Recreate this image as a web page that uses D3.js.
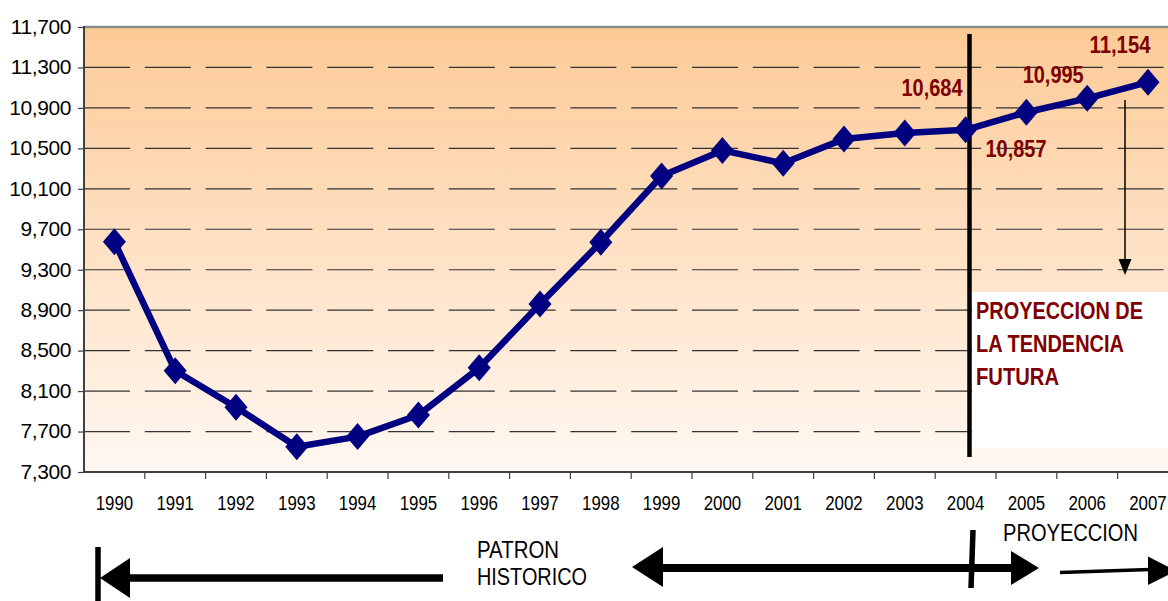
<!DOCTYPE html>
<html lang="es">
<head>
    <meta charset="utf-8">
    <title>Proyeccion de la tendencia futura</title>
    <style>
        body { margin: 0; background: #fff; }
        svg { display: block; font-family: "Liberation Sans", Arial, sans-serif; }
    </style>
</head>
<body>
<script src="https://cdn.jsdelivr.net/npm/d3@7/dist/d3.min.js"></script>
<script>
    // datos
    var years = ["1990", "1991", "1992", "1993", "1994", "1995", "1996", "1997", "1998",
        "1999", "2000", "2001", "2002", "2003", "2004", "2005", "2006", "2007"];
    var values = [9577, 8302, 7940, 7550, 7650, 7863, 8330, 8960, 9572,
        10227, 10480, 10352, 10593, 10652, 10684, 10857, 10995, 11154];
    var yTicks = [7300, 7700, 8100, 8500, 8900, 9300, 9700, 10100, 10500, 10900, 11300, 11700];
    var labelYears = ["2004", "2005", "2006", "2007"];
    var boxLines = ["PROYECCION DE", "LA TENDENCIA", "FUTURA"];

    function main() {
        var width = 1168,
            height = 601;
        var left = 84, top = 27, bottom = 472, band = 60.8;

        var svg = d3.select("body").append("svg")
            .attr("width", width)
            .attr("height", height);

        var x = d3.scaleBand().domain(years).range([left, left + band * years.length]);
        var y = d3.scaleLinear().domain([7300, 11700]).range([bottom, top]);
        var right = x.range()[1];
        var cx = function (d) { return x(d) + x.bandwidth() / 2; };

        //fondo degradado
        var grad = svg.append("defs").append("linearGradient")
            .attr("id", "fondo").attr("x1", 0).attr("y1", 0).attr("x2", 0).attr("y2", 1);
        grad.append("stop").attr("offset", "0%").attr("stop-color", "#fdca96");
        grad.append("stop").attr("offset", "100%").attr("stop-color", "#fff8f2");
        svg.append("rect")
            .attr("x", left).attr("y", top)
            .attr("width", right - left).attr("height", bottom - top)
            .attr("fill", "url(#fondo)");

        //lineas de division
        svg.append("g").selectAll("line")
            .data(yTicks.slice(1, -1))
            .join("line")
            .attr("x1", left).attr("x2", right)
            .attr("y1", function (d) { return y(d); })
            .attr("y2", function (d) { return y(d); })
            .attr("stroke", "#333")
            .attr("stroke-width", 1.2)
            .attr("stroke-dasharray", "46,14.8");

        //cuadro blanco de la nota
        svg.append("rect")
            .attr("x", 972).attr("y", 292)
            .attr("width", right - 972).attr("height", 156)
            .attr("fill", "#fff");

        //bordes
        svg.append("line").attr("x1", left).attr("x2", right).attr("y1", top).attr("y2", top)
            .attr("stroke", "#8c8c8c").attr("stroke-width", 2.5);
        svg.append("line").attr("x1", left).attr("x2", left).attr("y1", top - 1).attr("y2", bottom)
            .attr("stroke", "#404040").attr("stroke-width", 2);
        svg.append("line").attr("x1", left).attr("x2", right).attr("y1", bottom).attr("y2", bottom)
            .attr("stroke", "#404040").attr("stroke-width", 2);

        //eje y
        var yAxis = svg.append("g")
            .attr("transform", "translate(" + left + ",0)")
            .call(d3.axisLeft(y).tickValues(yTicks).tickSize(6).tickPadding(7).tickFormat(d3.format(",")));
        yAxis.select(".domain").remove();
        yAxis.attr("font-family", null).attr("font-size", null);
        yAxis.selectAll("line").attr("stroke", "#404040").attr("stroke-width", 1.2);
        yAxis.selectAll("text")
            .attr("dy", 6.3)
            .attr("font-size", 21)
            .attr("letter-spacing", -0.4)
            .attr("fill", "#000");

        //eje x
        svg.append("g").selectAll("line")
            .data(years.slice(1))
            .join("line")
            .attr("x1", function (d) { return x(d); })
            .attr("x2", function (d) { return x(d); })
            .attr("y1", bottom).attr("y2", bottom + 7)
            .attr("stroke", "#404040").attr("stroke-width", 1.2);
        svg.append("g").selectAll("text")
            .data(years)
            .join("text")
            .attr("x", cx)
            .attr("y", 510)
            .attr("text-anchor", "middle")
            .attr("font-size", 20)
            .attr("textLength", 37.5)
            .attr("lengthAdjust", "spacingAndGlyphs")
            .text(function (d) { return d; });

        //linea vertical 2004
        svg.append("line").attr("x1", 969.5).attr("x2", 969.5).attr("y1", 34).attr("y2", 457)
            .attr("stroke", "#000").attr("stroke-width", 4.5);

        //serie
        var pts = years.map(function (d, i) { return {year: d, value: values[i]}; });
        var line = d3.line()
            .x(function (d) { return cx(d.year); })
            .y(function (d) { return y(d.value); });
        svg.append("path").datum(pts)
            .attr("d", line)
            .attr("fill", "none")
            .attr("stroke", "#000080")
            .attr("stroke-width", 6.5)
            .attr("stroke-linejoin", "round");
        svg.append("g").selectAll("path")
            .data(pts)
            .join("path")
            .attr("transform", function (d) { return "translate(" + cx(d.year) + "," + y(d.value) + ")"; })
            .attr("d", "M0,-13.5L11.5,0L0,13.5L-11.5,0Z")
            .attr("fill", "#000080");

        //etiquetas de valores
        var offsets = {"2004": [-33.6, -33.7], "2005": [-10.4, 44.8], "2006": [-34, -15.3], "2007": [-28, -29]};
        svg.append("g").selectAll("text")
            .data(pts.filter(function (d) { return labelYears.indexOf(d.year) >= 0; }))
            .join("text")
            .attr("x", function (d) { return cx(d.year) + offsets[d.year][0]; })
            .attr("y", function (d) { return y(d.value) + offsets[d.year][1]; })
            .attr("text-anchor", "middle")
            .attr("font-size", 23)
            .attr("font-weight", "bold")
            .attr("fill", "#800000")
            .attr("textLength", 61)
            .attr("lengthAdjust", "spacingAndGlyphs")
            .text(function (d) { return d3.format(",")(d.value); });

        //flecha delgada
        svg.append("line").attr("x1", 1125).attr("x2", 1125).attr("y1", 100).attr("y2", 262)
            .attr("stroke", "#000").attr("stroke-width", 1.5);
        svg.append("path").attr("d", "M1118.5,259L1131.5,259L1125,275Z").attr("fill", "#000");

        //texto del cuadro
        var boxWidths = [167, 148, 83];
        svg.append("g").selectAll("text")
            .data(boxLines)
            .join("text")
            .attr("x", 976)
            .attr("y", function (d, i) { return 319 + i * 33; })
            .attr("font-size", 23)
            .attr("font-weight", "bold")
            .attr("fill", "#800000")
            .attr("textLength", function (d, i) { return boxWidths[i]; })
            .attr("lengthAdjust", "spacingAndGlyphs")
            .text(function (d) { return d; });

        //flechas de abajo
        var g = svg.append("g").attr("fill", "#000").attr("stroke", "#000");
        g.append("line").attr("x1", 98).attr("x2", 98).attr("y1", 547).attr("y2", 601).attr("stroke-width", 5.5);
        g.append("path").attr("d", "M100,578L130,558L130,598Z").attr("stroke", "none");
        g.append("line").attr("x1", 128).attr("x2", 443).attr("y1", 578).attr("y2", 578).attr("stroke-width", 7.5);

        g.append("path").attr("d", "M632,567L663,547L663,587Z").attr("stroke", "none");
        g.append("line").attr("x1", 660).attr("x2", 1014).attr("y1", 568).attr("y2", 568).attr("stroke-width", 8);
        g.append("path").attr("d", "M1039,568L1011,551L1011,585Z").attr("stroke", "none");
        g.append("line").attr("x1", 973).attr("x2", 971).attr("y1", 530).attr("y2", 588).attr("stroke-width", 5.5);

        g.append("line").attr("x1", 1060).attr("x2", 1150).attr("y1", 572.5).attr("y2", 569.5).attr("stroke-width", 3.5);
        g.append("path").attr("d", "M1148,556.5L1148,585L1176,571Z").attr("stroke", "none");

        var t = svg.append("g").attr("font-size", 24).attr("fill", "#000");
        t.append("text").attr("x", 477).attr("y", 558)
            .attr("textLength", 82).attr("lengthAdjust", "spacingAndGlyphs").text("PATRON");
        t.append("text").attr("x", 477).attr("y", 585)
            .attr("textLength", 110).attr("lengthAdjust", "spacingAndGlyphs").text("HISTORICO");
        t.append("text").attr("x", 1003).attr("y", 541).attr("font-size", 23)
            .attr("textLength", 135).attr("lengthAdjust", "spacingAndGlyphs").text("PROYECCION");
    }

    window.onload = function () {
        main();
    };
</script>
</body>
</html>
